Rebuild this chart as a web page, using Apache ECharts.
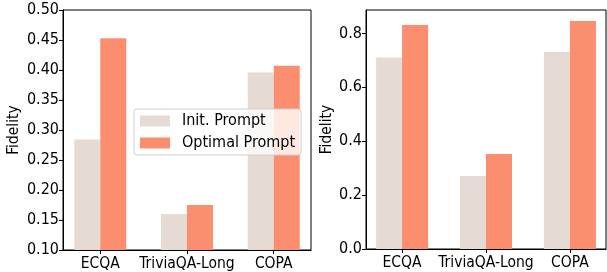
<!DOCTYPE html>
<html>
<head>
<meta charset="utf-8">
<script src="https://cdn.jsdelivr.net/npm/echarts@6/dist/echarts.min.js"></script>
<style>
  html, body { margin: 0; padding: 0; background: #fff; }
  #chart { width: 607px; height: 272px; }
</style>
</head>
<body>
<div id="chart"></div>
<script>
// data
const categories = ['ECQA', 'TriviaQA-Long', 'COPA']
const seriesNames = ['Init. Prompt', 'Optimal Prompt']
const leftInit = [0.284, 0.160, 0.396]
const leftOptimal = [0.453, 0.175, 0.407]
const rightInit = [0.711, 0.271, 0.731]
const rightOptimal = [0.831, 0.353, 0.846]

const colors = ['#e6dbd3', '#fa8e6f']
const font = '"DejaVu Sans Condensed", "DejaVu Sans"'

const myChart = echarts.init(document.getElementById('chart'))

// bars sit at x = 0, 1, 2 on a value axis so the padding matches matplotlib
const toPoints = (arr) => arr.map((v, i) => [i, v])

function xAxisFor(gridIndex) {
  return {
    gridIndex: gridIndex,
    type: 'value',
    min: -0.43,
    max: 2.43,
    splitLine: { show: false },
    axisLine: { show: true, onZero: false, lineStyle: { color: '#000', width: 1 } },
    axisTick: { show: true, length: 4, customValues: [0, 1, 2], lineStyle: { color: '#000' } },
    axisLabel: {
      customValues: [0, 1, 2],
      margin: 6,
      color: '#000',
      fontFamily: font,
      fontSize: 15.5,
      formatter: (v) => categories[Math.round(v)]
    }
  }
}

function yAxisFor(gridIndex, min, max, interval, digits, nameGap) {
  return {
    gridIndex: gridIndex,
    type: 'value',
    min: min,
    max: max,
    interval: interval,
    name: 'Fidelity',
    nameLocation: 'middle',
    nameRotate: 90,
    nameGap: nameGap,
    nameTextStyle: { color: '#000', fontFamily: font, fontSize: 15.5 },
    splitLine: { show: false },
    axisLine: { show: true, onZero: false, lineStyle: { color: '#000', width: 1 } },
    axisTick: { show: true, length: 4, lineStyle: { color: '#000' } },
    axisLabel: {
      margin: 4,
      color: '#000',
      fontFamily: font,
      fontSize: 16,
      showMaxLabel: max === 0.5,
      formatter: (v) => v.toFixed(digits)
    }
  }
}

function barSeries(name, data, axisIndex, colorIndex) {
  return {
    name: name,
    type: 'bar',
    xAxisIndex: axisIndex,
    yAxisIndex: axisIndex,
    barWidth: 26,
    barGap: '0%',
    itemStyle: { color: colors[colorIndex] },
    data: toPoints(data)
  }
}

const options = {
  animation: false,
  backgroundColor: '#fff',
  grid: [
    { left: 63, top: 10, width: 248, height: 245, show: true, borderColor: '#000', borderWidth: 1 },
    { left: 366, top: 10, width: 240, height: 239, show: true, borderColor: '#000', borderWidth: 1 }
  ],
  legend: {
    orient: 'vertical',
    left: 134,
    top: 109,
    padding: [4, 6, 4, 6],
    itemWidth: 30,
    itemHeight: 11,
    itemGap: 6,
    backgroundColor: 'rgba(255,255,255,0.8)',
    borderColor: '#d0d0d0',
    borderWidth: 1,
    borderRadius: 3,
    z: 10,
    textStyle: { color: '#000', fontFamily: font, fontSize: 16, lineHeight: 16, padding: [0, 0, 0, 7] },
    data: seriesNames.map((n) => ({ name: n, icon: 'rect' }))
  },
  xAxis: [xAxisFor(0), xAxisFor(1)],
  yAxis: [
    yAxisFor(0, 0.1, 0.5, 0.05, 2, 41),
    yAxisFor(1, 0, 0.887, 0.2, 1, 29)
  ],
  series: [
    barSeries(seriesNames[0], leftInit, 0, 0),
    barSeries(seriesNames[1], leftOptimal, 0, 1),
    barSeries(seriesNames[0], rightInit, 1, 0),
    barSeries(seriesNames[1], rightOptimal, 1, 1)
  ]
}
myChart.setOption(options)
</script>
</body>
</html>
